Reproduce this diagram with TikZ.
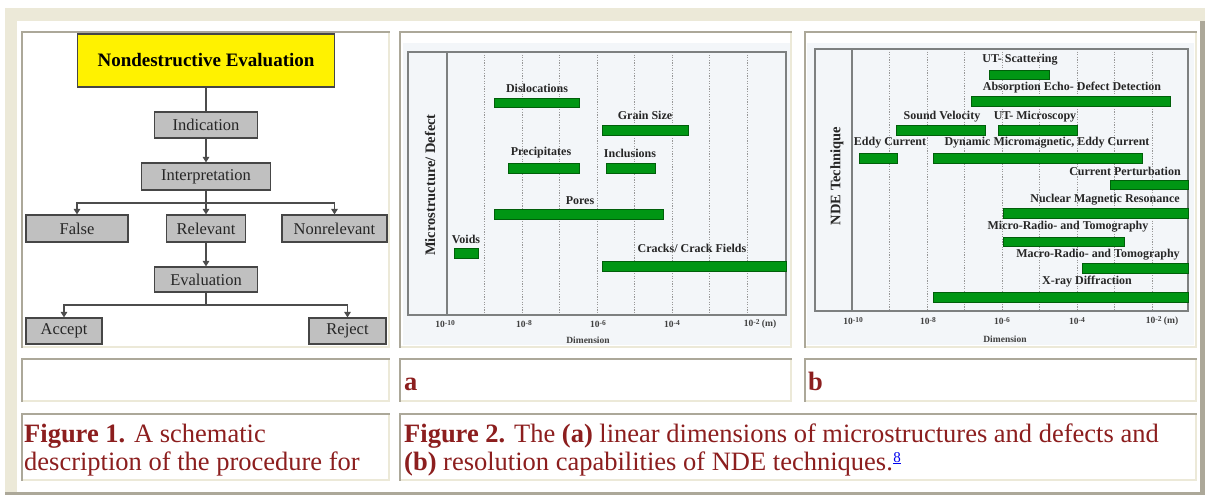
\documentclass[tikz,border=0pt]{standalone}
\usepackage{fontspec}
\setmainfont{Liberation Serif}
\usetikzlibrary{arrows.meta}
\definecolor{beige}{RGB}{236,233,216}
\definecolor{bordergray}{RGB}{172,168,153}
\definecolor{capred}{RGB}{140,30,30}
\definecolor{bargreen}{RGB}{0,150,20}
\definecolor{bargreenedge}{RGB}{0,95,10}
\definecolor{chartbg}{RGB}{243,246,249}
\definecolor{framegray}{RGB}{125,128,128}
\definecolor{boxgray}{RGB}{192,192,192}
\definecolor{boxedge}{RGB}{70,70,70}
\definecolor{linkblue}{RGB}{0,0,238}
\tikzset{
  fbox/.style={draw=boxedge, line width=1.2pt, fill=boxgray, inner sep=0pt,
    font=\fontsize{16.5}{18}\selectfont, text=black!85},
  conn/.style={draw=black!70, line width=1.4pt},
  arr/.style={conn, -{Triangle[width=6.5pt,length=5.5pt]}},
  greenbar/.style={draw=bargreenedge, fill=bargreen, line width=0.6pt},
  blabel/.style={font=\fontsize{12}{13}\selectfont\bfseries, text=black!85, inner sep=0pt},
  ylab/.style={font=\fontsize{14.5}{15}\selectfont\bfseries, text=black!85, inner sep=0pt, rotate=90},
  ticklabel/.style={font=\fontsize{9.5}{10}\selectfont\bfseries, text=black!75, inner sep=0pt},
  gridline/.style={draw=gray!80, line width=0.7pt, dash pattern=on 1.2pt off 1.4pt},
  frameline/.style={draw=framegray, line width=1.3pt},
  captext/.style={font=\fontsize{26.5}{30}\selectfont, text=capred, inner sep=0pt, anchor=base west},
  subletter/.style={font=\fontsize{26.5}{30}\selectfont\bfseries, text=capred, inner sep=0pt, anchor=base west},
  footref/.style={font=\fontsize{15}{16}\selectfont, text=linkblue, inner sep=0pt, anchor=base west},
}
\newcommand\tablecell[4]{%
  \fill[white] (#1,#2) rectangle (#3,#4);
  \fill[bordergray] (#1,#2) rectangle (#3,#2+2);
  \fill[bordergray] (#1,#2) rectangle (#1+2,#4);
  \fill[beige] (#1+2,#4-2) rectangle (#3,#4);
  \fill[beige] (#3-2,#2+2) rectangle (#3,#4);
}
\newcommand\expo[1]{10\raisebox{0.55ex}{\fontsize{7.5}{8}\selectfont #1}}
\begin{document}
\begin{tikzpicture}[x=1pt,y=-1pt]
\useasboundingbox (0,0) rectangle (1205,495);
\fill[white] (0,0) rectangle (1205,495);
% outer table border
\fill[beige] (5,8) rectangle (1205,495);
\fill[bordergray] (1200,21) rectangle (1205,495);
\fill[bordergray] (5,492) rectangle (1205,495);
\fill[white] (17,21) rectangle (1200,492);
% cells
\tablecell{21}{31}{390}{348}
\tablecell{399}{31}{792}{348}
\tablecell{804}{31}{1197}{348}
\tablecell{21}{358}{390}{402}
\tablecell{399}{358}{792}{402}
\tablecell{804}{358}{1197}{402}
\tablecell{21}{413}{390}{481}
\tablecell{399}{413}{1197}{481}

% ---------------- Flowchart ----------------
\node[fbox, fill=yellow, minimum width=257pt, minimum height=53pt,
      font=\fontsize{19}{20}\selectfont\bfseries, text=black] (ne) at (206,60.5) {Nondestructive Evaluation};
\node[fbox, minimum width=103pt, minimum height=26pt] (ind) at (206,125) {Indication};
\node[fbox, minimum width=129pt, minimum height=27pt] (interp) at (206,176.5) {Interpretation};
\node[fbox, minimum width=102pt, minimum height=27pt] (false) at (77,228.5) {False};
\node[fbox, minimum width=79pt, minimum height=27pt] (rel) at (206,228.5) {Relevant};
\node[fbox, minimum width=105pt, minimum height=27pt] (nonrel) at (334.5,228.5) {Nonrelevant};
\node[fbox, minimum width=103pt, minimum height=25pt] (eval) at (206,279.5) {Evaluation};
\node[fbox, minimum width=76pt, minimum height=26pt] (accept) at (64,331) {Accept};
\node[fbox, minimum width=77pt, minimum height=26pt] (reject) at (347.5,331) {Reject};
\coordinate (j1) at (206,203);
\coordinate (j2) at (206,305);
\draw[conn] (ne.south) -- (ind.north);
\draw[arr] (ind.south) -- (interp.north);
\draw[conn] (interp.south) -- (j1);
\draw[arr] (j1) -| (false.north);
\draw[arr] (j1) -- (rel.north);
\draw[arr] (j1) -| (nonrel.north);
\draw[arr] (rel.south) -- (eval.north);
\draw[conn] (eval.south) -- (j2);
\draw[arr] (j2) -| (accept.north);
\draw[arr] (j2) -| (reject.north);

% ---------------- Chart a ----------------
\fill[chartbg] (403,43) rectangle (790,345);
\foreach \gx in {484.5,522,559.5,597,634.5,672,709.5,747}
  \draw[gridline] (\gx,52) -- (\gx,315);
\draw[frameline] (408,52) rectangle (786,315);
\draw[frameline] (447,52) -- (447,315);
\node[ylab] (ya) at (430,185) {Microstructure/ Defect};
\draw[greenbar] (494,98) rectangle (579,107);
\node[blabel] (la1) at (537,88) {Dislocations};
\draw[greenbar] (602,125) rectangle (688,135);
\node[blabel] (la2) at (645,115) {Grain Size};
\draw[greenbar] (508,163) rectangle (579,173);
\node[blabel] (la3) at (541,153) {Precipitates};
\draw[greenbar] (606,163) rectangle (655,173);
\node[blabel] (la4) at (630,153) {Inclusions};
\draw[greenbar] (494,209) rectangle (663,219);
\node[blabel] (la5) at (580,201) {Pores};
\draw[greenbar] (454,248) rectangle (478,258);
\node[blabel] (la6) at (466,239) {Voids};
\draw[greenbar] (602,261) rectangle (786,271);
\node[blabel] (la7) at (692,248) {Cracks/ Crack Fields};
\node[ticklabel] (ta1) at (445,324) {\expo{-10}};
\node[ticklabel] (ta2) at (524,324) {\expo{-8}};
\node[ticklabel] (ta3) at (598,324) {\expo{-6}};
\node[ticklabel] (ta4) at (672,324) {\expo{-4}};
\node[ticklabel] (ta5) at (760,324) {\expo{-2} (m)};
\node[ticklabel] (da) at (588,340) {Dimension};

% ---------------- Chart b ----------------
\fill[chartbg] (807,43) rectangle (1194,345);
\foreach \gx in {889.5,927,964.5,1002,1039.5,1077,1114.5,1152}
  \draw[gridline] (\gx,49) -- (\gx,311);
\draw[frameline] (815,49) rectangle (1188,311);
\draw[frameline] (852,49) -- (852,311);
\node[ylab] (yb) at (837,176) {NDE Technique};
\draw[greenbar] (989,70) rectangle (1049,79);
\node[blabel] (lb1) at (1020,60) {UT- Scattering};
\draw[greenbar] (971,96) rectangle (1170,106);
\node[blabel] (lb2) at (1072,88) {Absorption Echo- Defect Detection};
\draw[greenbar] (896,125) rectangle (985,135);
\node[blabel] (lb3) at (942,117) {Sound Velocity};
\draw[greenbar] (998,125) rectangle (1077,135);
\node[blabel] (lb4) at (1035,117) {UT- Microscopy};
\draw[greenbar] (859,153) rectangle (897,163);
\node[blabel] (lb5) at (890,143) {Eddy Current};
\draw[greenbar] (933,153) rectangle (1142,163);
\node[blabel] (lb6) at (1047,143) {Dynamic Micromagnetic, Eddy Current};
\draw[greenbar] (1110,180) rectangle (1188,189);
\node[blabel] (lb7) at (1125,171) {Current Perturbation};
\draw[greenbar] (1003,208) rectangle (1188,218);
\node[blabel] (lb8) at (1105,200) {Nuclear Magnetic Resonance};
\draw[greenbar] (1003,237) rectangle (1124,246);
\node[blabel] (lb9) at (1068,227) {Micro-Radio- and Tomography};
\draw[greenbar] (1082,263) rectangle (1188,273);
\node[blabel] (lb10) at (1098,255) {Macro-Radio- and Tomography};
\draw[greenbar] (933,292) rectangle (1188,302);
\node[blabel] (lb11) at (1087,282) {X-ray Diffraction};
\node[ticklabel] (tb1) at (853,321) {\expo{-10}};
\node[ticklabel] (tb2) at (928,321) {\expo{-8}};
\node[ticklabel] (tb3) at (1002,321) {\expo{-6}};
\node[ticklabel] (tb4) at (1077,321) {\expo{-4}};
\node[ticklabel] (tb5) at (1162,321) {\expo{-2} (m)};
\node[ticklabel] (db) at (1005,339) {Dimension};

% ---------------- Sub labels & captions ----------------
\node[subletter] (sa) at (404,390) {a};
\node[subletter] (sb) at (808,390) {b};
\node[captext] (c1a) at (24,442) {\textbf{Figure 1.} A schematic};
\node[captext] (c1b) at (24,470) {description of the procedure for};
\node[captext] (c2a) at (404,442) {\textbf{Figure 2.} The \textbf{(a)} linear dimensions of microstructures and defects and};
\node[captext] (c2b) at (404,470) {\textbf{(b)} resolution capabilities of NDE techniques.};
\node[footref] (fn) at (c2b.base east) [yshift=8pt] {\underline{8}};
\end{tikzpicture}
\end{document}
